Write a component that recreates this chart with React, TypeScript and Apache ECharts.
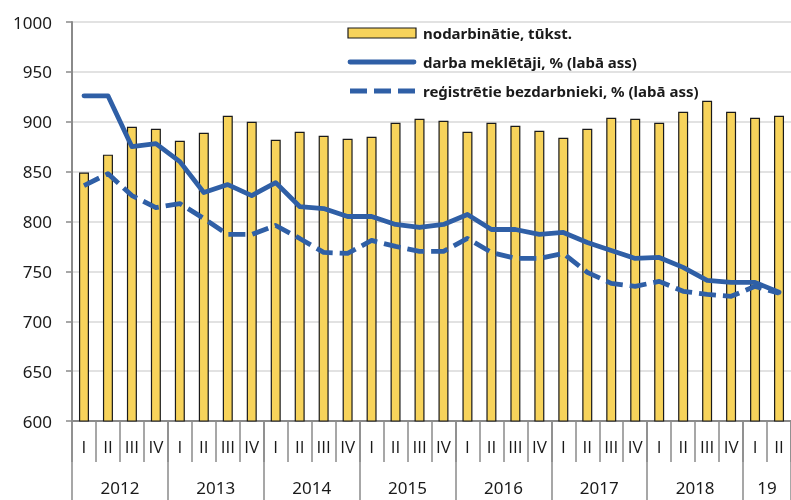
import React, { useEffect, useRef } from "react";
import * as echarts from "echarts";

const years = ["2012", "2013", "2014", "2015", "2016", "2017", "2018", "19"];
const quartersPerYear = [4, 4, 4, 4, 4, 4, 4, 2];
const quarterNames = ["I", "II", "III", "IV"];

// nodarbinātie, tūkst. (left axis)
const employed = [
  849, 867, 895, 893, 881, 889, 906, 900, 882, 890, 886, 883, 885, 899, 903,
  901, 890, 899, 896, 891, 884, 893, 904, 903, 899, 910, 921, 910, 904, 906,
];
// darba meklētāji, % (right axis)
const jobSeekers = [
  16.3, 16.3, 13.75, 13.9, 13.0, 11.45, 11.85, 11.3, 11.95, 10.75, 10.65,
  10.25, 10.25, 9.85, 9.7, 9.85, 10.35, 9.6, 9.6, 9.35, 9.45, 8.95, 8.55, 8.15,
  8.2, 7.7, 7.05, 6.95, 6.95, 6.45,
];
// reģistrētie bezdarbnieki, % (right axis)
const registered = [
  11.8, 12.4, 11.3, 10.7, 10.9, 10.15, 9.35, 9.35, 9.8, 9.15, 8.45, 8.4, 9.05,
  8.75, 8.5, 8.5, 9.15, 8.45, 8.15, 8.15, 8.4, 7.45, 6.9, 6.75, 7.0, 6.5, 6.35,
  6.25, 6.75, 6.4,
];

const seriesNames = [
  "nodarbinātie, tūkst.",
  "darba meklētāji, % (labā ass)",
  "reģistrētie bezdarbnieki, % (labā ass)",
];

export default function App() {
  const ref = useRef<HTMLDivElement>(null);
  useEffect(() => {
    if (!ref.current) return;
    const chart = echarts.init(ref.current, undefined, { renderer: "svg" });

    const quarters: string[] = [];
    const yearStart: boolean[] = [];
    const yearLabel: string[] = [];
    years.forEach((y, yi) => {
      for (let q = 0; q < quartersPerYear[yi]; q++) {
        quarters.push(quarterNames[q]);
        yearStart.push(q === 0);
        const mid = Math.floor(quartersPerYear[yi] / 2) - 1;
        yearLabel.push(q === mid ? y : "");
      }
    });
    const catIds = quarters.map((_, i) => String(i));

    const font = "Noto Sans";
    const qFont = "Open Sans";
    const blue = "#2f5fa6";
    const dash = [17, 7];

    const legX = 348;
    const legW = 68;
    const textX = 423;
    const rows = [33, 62, 91];
    const legendText = (i: number) => ({
      type: "text",
      x: textX,
      y: rows[i],
      style: {
        text: seriesNames[i],
        fontFamily: font,
        fontSize: 15,
        fontWeight: "bold",
        fill: "#1a1a1a",
        textVerticalAlign: "middle",
        verticalAlign: "middle",
      },
    });

    chart.setOption({
      animation: false,
      textStyle: { fontFamily: font },
      grid: { left: 72, right: -2, top: 22, bottom: 79, containLabel: false },
      graphic: [
        {
          type: "rect",
          shape: { x: legX, y: rows[0] - 5, width: legW, height: 10 },
          style: { fill: "#f7d35b", stroke: "#1a1a1a", lineWidth: 1.2 },
          z: 100,
        },
        {
          type: "line",
          shape: { x1: legX + 2, y1: rows[1], x2: legX + legW - 2, y2: rows[1] },
          style: { stroke: blue, lineWidth: 4.8, lineCap: "round" },
          z: 100,
        },
        {
          type: "line",
          shape: { x1: legX + 2, y1: rows[2], x2: legX + legW, y2: rows[2] },
          style: { stroke: blue, lineWidth: 4.8, lineDash: dash, lineCap: "butt" },
          z: 100,
        },
        { ...legendText(0), z: 100 },
        { ...legendText(1), z: 100 },
        { ...legendText(2), z: 100 },
      ],
      xAxis: [
        {
          type: "category",
          data: catIds,
          position: "bottom",
          axisLine: { show: true, lineStyle: { color: "#8a8a8a", width: 2 } },
          axisTick: {
            show: true,
            interval: 0,
            length: 41,
            lineStyle: { color: "#8a8a8a", width: 1.5 },
          },
          axisLabel: {
            interval: 0,
            margin: 17,
            fontSize: 17,
            color: "#1a1a1a",
            fontFamily: qFont,
            formatter: (v: string) => quarters[Number(v)],
          },
          splitLine: { show: false },
        },
        {
          type: "category",
          data: catIds,
          position: "bottom",
          axisLine: { show: false },
          axisTick: {
            show: true,
            length: 80,
            interval: (i: number) => yearStart[i],
            lineStyle: { color: "#8a8a8a", width: 1.5 },
          },
          axisLabel: {
            interval: 0,
            margin: 58,
            fontSize: 17,
            color: "#1a1a1a",
            fontFamily: font,
            padding: [0, 0, 0, 24],
            formatter: (v: string) => yearLabel[Number(v)],
          },
          splitLine: { show: false },
        },
      ],
      yAxis: [
        {
          type: "value",
          min: 600,
          max: 1000,
          interval: 50,
          axisLine: { show: true, lineStyle: { color: "#8a8a8a", width: 2 } },
          axisTick: {
            show: true,
            length: 6,
            lineStyle: { color: "#8a8a8a", width: 1.5 },
          },
          axisLabel: {
            margin: 20,
            fontSize: 17,
            color: "#1a1a1a",
            fontFamily: font,
            formatter: (v: number) => String(v),
          },
          splitLine: { show: true, lineStyle: { color: "#d9d9d9", width: 1.5 } },
        },
        {
          type: "value",
          min: 0,
          max: 20,
          show: false,
          splitLine: { show: false },
        },
      ],
      series: [
        {
          name: seriesNames[0],
          type: "bar",
          xAxisIndex: 0,
          yAxisIndex: 0,
          data: employed,
          barWidth: 10,
          itemStyle: { color: "#f7d35b", borderColor: "#1a1a1a", borderWidth: 1.2 },
        },
        {
          name: seriesNames[1],
          type: "line",
          xAxisIndex: 0,
          yAxisIndex: 1,
          data: jobSeekers,
          symbol: "none",
          lineStyle: { color: blue, width: 4.8, cap: "round", join: "round" },
          itemStyle: { color: blue },
        },
        {
          name: seriesNames[2],
          type: "line",
          xAxisIndex: 0,
          yAxisIndex: 1,
          data: registered,
          symbol: "none",
          lineStyle: {
            color: blue,
            width: 4.8,
            type: dash,
            cap: "butt",
            join: "round",
          },
          itemStyle: { color: blue },
        },
      ],
    });
    return () => chart.dispose();
  }, []);
  return <div ref={ref} style={{ width: 791, height: 500, position: "fixed", left: 0, top: 0 }} />;
}
